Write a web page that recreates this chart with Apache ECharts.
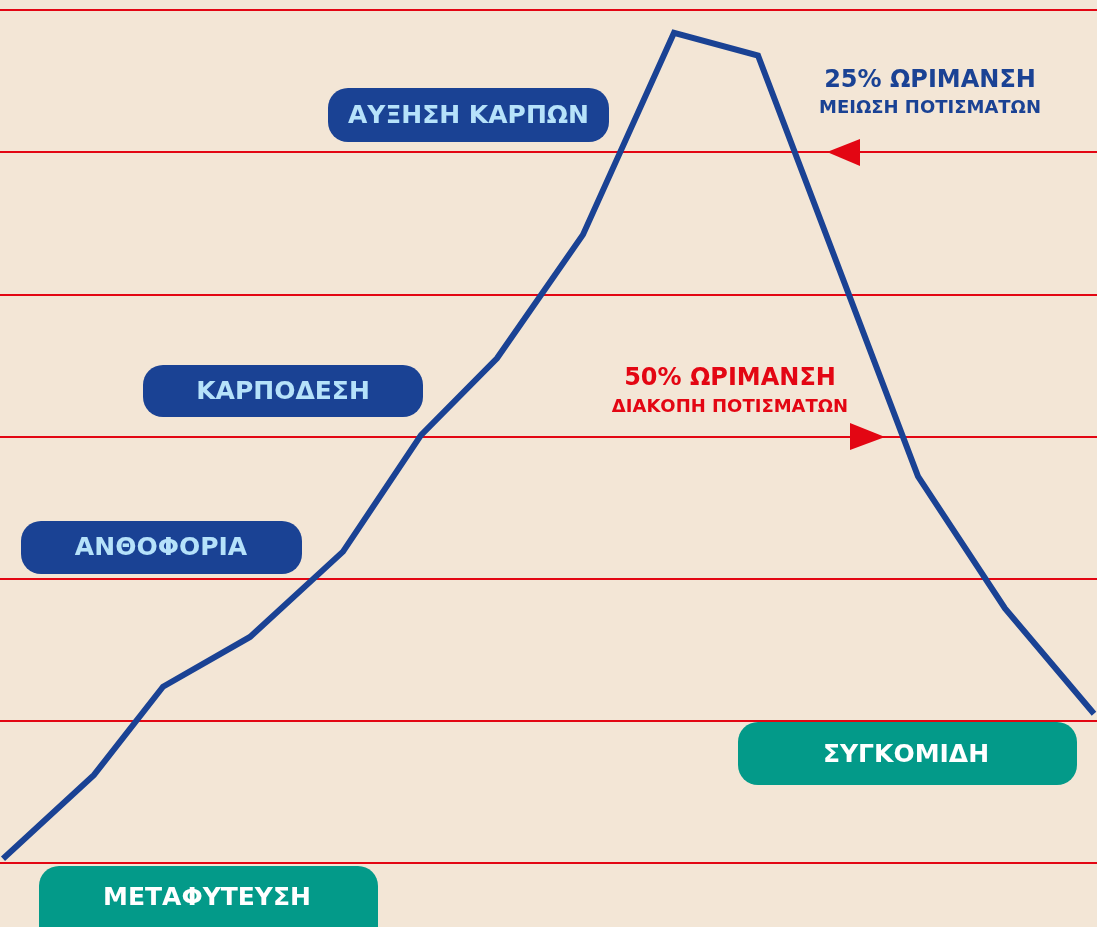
<!DOCTYPE html>
<html>
<head>
    <meta charset="UTF-8">
    <title>Καλλιεργητικός κύκλος</title>
    <script src="https://cdn.jsdelivr.net/npm/echarts/dist/echarts.min.js"></script>
    <style>
        html, body { margin: 0; padding: 0; background: #F3E6D6; }
        #main { width: 1097px; height: 927px; }
    </style>
</head>
<body>
    <div id="main"></div>
    <script>
        // ========== data ==========
        const stageX = [3, 94, 163, 250, 343, 421, 497, 583, 674, 758, 918, 1005, 1094];
        const stageY = [0.03, 0.62, 1.24, 1.59, 2.19, 3.01, 3.55, 4.42, 5.84, 5.68, 2.72, 1.79, 1.05];
        const yTicks = [0, 1, 2, 3, 4, 5, 6];
        // ==========================

        const col = {
            bg: '#F3E6D6',
            red: '#E30613',
            blue: '#1A4294',
            light: '#B6E2FA',
            teal: '#039A89'
        };
        const font = '"DejaVu Sans", sans-serif';

        function pill(x, y, w, h, fill, text, color, cx, cy) {
            return [{
                type: 'rect', z: 100,
                shape: { x: x, y: y, width: w, height: h, r: 20 },
                style: { fill: fill }
            }, {
                type: 'text', z: 101,
                x: cx !== undefined ? cx : x + w / 2,
                y: cy !== undefined ? cy : y + h / 2 + 1,
                style: {
                    text: text, fill: color, font: 'bold 25px ' + font,
                    align: 'center', verticalAlign: 'middle'
                }
            }];
        }

        function note(cx, y, y2, l1, l2, color) {
            return [{
                type: 'text', z: 101, x: cx, y: y,
                style: { text: l1, fill: color, font: 'bold 24px ' + font, align: 'center', verticalAlign: 'middle' }
            }, {
                type: 'text', z: 101, x: cx, y: y2,
                style: { text: l2, fill: color, font: 'bold 18px ' + font, align: 'center', verticalAlign: 'middle' }
            }];
        }

        const chart = echarts.init(document.getElementById('main'));
        const option = {
            backgroundColor: col.bg,
            animation: false,
            grid: { left: 0, right: 0, top: 10, bottom: 64 },
            xAxis: {
                type: 'value', min: 0, max: 1097,
                show: false
            },
            yAxis: {
                type: 'value', min: yTicks[0], max: yTicks[yTicks.length - 1], interval: 1,
                axisLine: { show: false },
                axisTick: { show: false },
                axisLabel: { show: false },
                splitLine: { show: true, lineStyle: { color: col.red, width: 2 } }
            },
            series: [{
                type: 'line',
                data: stageX.map((x, i) => [x, stageY[i]]),
                showSymbol: false,
                clip: false,
                lineStyle: { color: col.blue, width: 6, join: 'miter', cap: 'butt' },
                z: 5
            }],
            graphic: [
                ...pill(328, 88, 281, 54, col.blue, 'ΑΥΞΗΣΗ ΚΑΡΠΩΝ', col.light),
                ...pill(143, 365, 280, 52, col.blue, 'ΚΑΡΠΟΔΕΣΗ', col.light),
                ...pill(21, 521, 281, 53, col.blue, 'ΑΝΘΟΦΟΡΙΑ', col.light, 161),
                ...pill(39, 866, 339, 80, col.teal, 'ΜΕΤΑΦΥΤΕΥΣΗ', '#FFFFFF', 207, 898),
                ...pill(738, 722, 339, 63, col.teal, 'ΣΥΓΚΟΜΙΔΗ', '#FFFFFF', 906, 755),
                ...note(930, 81, 108, '25% ΩΡΙΜΑΝΣΗ', 'ΜΕΙΩΣΗ ΠΟΤΙΣΜΑΤΩΝ', col.blue),
                ...note(730, 379, 407, '50% ΩΡΙΜΑΝΣΗ', 'ΔΙΑΚΟΠΗ ΠΟΤΙΣΜΑΤΩΝ', col.red),
                {
                    type: 'polygon', z: 50,
                    shape: { points: [[827, 152], [860, 139], [860, 166]] },
                    style: { fill: col.red }
                },
                {
                    type: 'polygon', z: 50,
                    shape: { points: [[885, 437], [850, 423], [850, 450]] },
                    style: { fill: col.red }
                }
            ]
        };
        chart.setOption(option);
    </script>
</body>
</html>
